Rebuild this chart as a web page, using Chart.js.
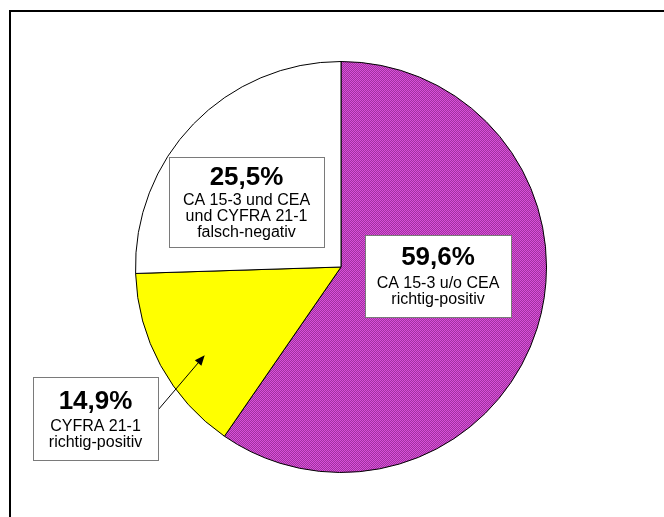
<!DOCTYPE html>
<html>
<head>
<meta charset="utf-8">
<script src="https://cdn.jsdelivr.net/npm/chart.js@4.4.1/dist/chart.umd.min.js"></script>
<style>
  body { margin: 0; background: #fff; }
  canvas { display: block; }
</style>
</head>
<body>
<canvas id="pie" width="664" height="517"></canvas>
<script>
// slice data, clockwise from 12 o'clock
const categories = ["CA 15-3 u/o CEA richtig-positiv", "CYFRA 21-1 richtig-positiv", "CA 15-3 und CEA und CYFRA 21-1 falsch-negativ"];
const shares = [59.6, 14.9, 25.5];
const labelLines = [
  ["CA 15-3 u/o CEA", "richtig-positiv"],
  ["CYFRA 21-1", "richtig-positiv"],
  ["CA 15-3 und CEA", "und CYFRA 21-1", "falsch-negativ"]
];

// label box placement (left, top, width, height, offset of first text line)
const boxes = [
  { x: 365, y: 235, w: 146, h: 82, pct: 23, line: 49 },
  { x: 33, y: 377, w: 125, h: 83, pct: 25, line: 50 },
  { x: 169, y: 157, w: 155, h: 90, pct: 21, line: 44 }
];

// purple slice gets a fine two-tone hatch
const makeHatch = () => {
  const c = document.createElement("canvas");
  c.width = 2;
  c.height = 2;
  const g = c.getContext("2d");
  g.fillStyle = "#d94fd9";
  g.fillRect(0, 0, 2, 2);
  g.fillStyle = "#a0329f";
  g.fillRect(1, 0, 1, 1);
  g.fillRect(0, 1, 1, 1);
  return g.createPattern(c, "repeat");
};

const fmtPct = (v) => v.toFixed(1).replace(".", ",") + "%";

const labelBoxes = {
  id: "labelBoxes",
  afterDatasetsDraw(chart) {
    const ctx = chart.ctx;
    const arcs = chart.getDatasetMeta(0).data;

    // arrow from the small slice's box into the slice
    const yellow = arcs[1];
    const a = yellow.startAngle + (yellow.endAngle - yellow.startAngle) * 0.42;
    const tipX = yellow.x + Math.cos(a) * yellow.outerRadius * 0.79;
    const tipY = yellow.y + Math.sin(a) * yellow.outerRadius * 0.79;
    const fromX = boxes[1].x + boxes[1].w;
    const fromY = 410;
    const ang = Math.atan2(tipY - fromY, tipX - fromX);
    ctx.save();
    ctx.strokeStyle = "#000";
    ctx.lineWidth = 1;
    ctx.beginPath();
    ctx.moveTo(fromX, fromY);
    ctx.lineTo(tipX - Math.cos(ang) * 8, tipY - Math.sin(ang) * 8);
    ctx.stroke();
    ctx.fillStyle = "#000";
    ctx.beginPath();
    ctx.moveTo(tipX, tipY);
    ctx.lineTo(tipX - Math.cos(ang - 0.4) * 11, tipY - Math.sin(ang - 0.4) * 11);
    ctx.lineTo(tipX - Math.cos(ang + 0.4) * 11, tipY - Math.sin(ang + 0.4) * 11);
    ctx.closePath();
    ctx.fill();

    // boxes with percentage and description
    boxes.forEach((b, i) => {
      ctx.fillStyle = "#fff";
      ctx.fillRect(b.x, b.y, b.w, b.h);
      ctx.strokeStyle = "#7a7a7a";
      ctx.strokeRect(b.x + 0.5, b.y + 0.5, b.w, b.h);
      const cx = b.x + b.w / 2;
      ctx.fillStyle = "#000";
      ctx.textAlign = "center";
      ctx.textBaseline = "middle";
      ctx.font = "bold 26px 'Liberation Sans', Arial, sans-serif";
      ctx.fillText(fmtPct(shares[i]), cx, b.y + b.pct);
      ctx.font = "16px 'Liberation Sans', Arial, sans-serif";
      labelLines[i].forEach((line, j) => {
        ctx.fillText(line, cx, b.y + b.line + j * 16);
      });
    });

    // outer frame, left and top edges
    ctx.strokeStyle = "#000";
    ctx.lineWidth = 2;
    ctx.beginPath();
    ctx.moveTo(10, 517);
    ctx.lineTo(10, 11);
    ctx.lineTo(664, 11);
    ctx.stroke();
    ctx.restore();
  }
};

new Chart(document.getElementById("pie"), {
  type: "pie",
  data: {
    labels: categories,
    datasets: [{
      data: shares,
      backgroundColor: [makeHatch(), "#ffff00", "#ffffff"],
      borderColor: "#000",
      borderWidth: 1
    }]
  },
  options: {
    responsive: false,
    animation: false,
    layout: { padding: { top: 61, left: 135, right: 117, bottom: 44 } },
    plugins: {
      legend: { display: false },
      tooltip: { enabled: false }
    }
  },
  plugins: [labelBoxes]
});
</script>
</body>
</html>
